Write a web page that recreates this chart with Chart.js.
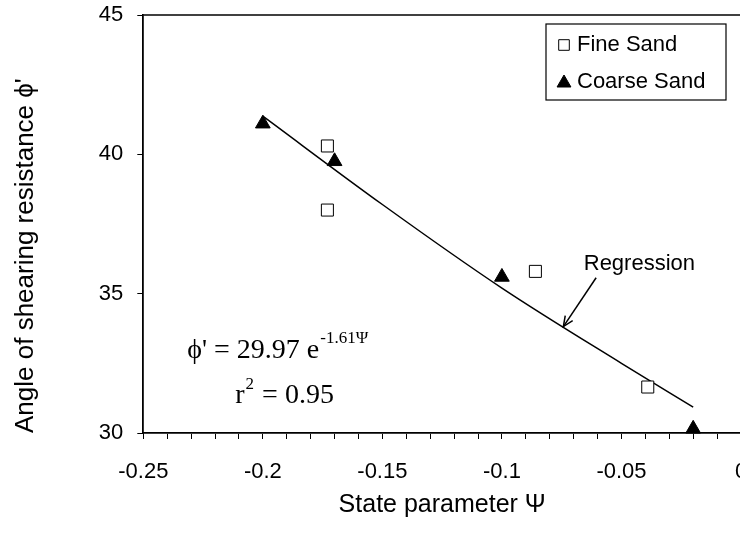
<!DOCTYPE html>
<html>
<head>
<meta charset="utf-8">
<script src="https://cdn.jsdelivr.net/npm/chart.js@4/dist/chart.umd.min.js"></script>
<style>
html,body{margin:0;padding:0;background:#fff;overflow:hidden;width:740px;height:537px}
#wrap{position:relative;width:760px;height:537px}
</style>
</head>
<body>
<div id="wrap"><canvas id="c" width="760" height="537"></canvas></div>
<script>
// ---- data ----
const fineSandX = [-0.173, -0.173, -0.086, -0.039];
const fineSandY = [40.3, 38.0, 35.8, 31.65];
const coarseSandX = [-0.2, -0.17, -0.1, -0.02];
const coarseSandY = [41.1, 39.75, 35.6, 30.15];
const regressionX = [-0.2, -0.15, -0.1, -0.05, -0.02];
const regressionY = [41.37, 38.2, 35.2, 32.5, 30.93];
const xTickValues = [-0.25, -0.2, -0.15, -0.1, -0.05, 0];
const xTickLabels = ['-0.25', '-0.2', '-0.15', '-0.1', '-0.05', '0'];
const seriesNames = ['Fine Sand', 'Coarse Sand', 'Regression'];
const xTitle = 'State parameter \u03A8';
const yTitle = "Angle of shearing resistance \u03D5'";

// annotation anchors (data coordinates)
const regLabelAt = [-0.0425, 36.05];
const arrowFrom = [-0.0606, 35.57];
const arrowTo = [-0.0743, 33.82];

const pts = (xs, ys) => xs.map((v, i) => ({x: v, y: ys[i]}));

const SANS = "'Liberation Sans', Arial, 'DejaVu Sans', sans-serif";
const SERIF = "'Liberation Serif', 'Times New Roman', 'DejaVu Serif', serif";

const legendPlugin = {
  id: 'boxLegend',
  afterDraw(chart) {
    const {ctx, chartArea: a} = chart;
    const L = a.right - 195, T = a.top + 9, W = 180, H = 76;
    ctx.save();
    ctx.fillStyle = '#fff';
    ctx.fillRect(L, T, W, H);
    ctx.strokeStyle = '#000';
    ctx.lineWidth = 1.2;
    ctx.strokeRect(L, T, W, H);
    ctx.font = '22px ' + SANS;
    ctx.textBaseline = 'middle';
    ctx.textAlign = 'left';
    const rows = [T + 21, T + 58];
    [0, 1].forEach((di, k) => {
      const ds = chart.data.datasets[di];
      ctx.fillStyle = ds.backgroundColor;
      ctx.strokeStyle = ds.borderColor;
      ctx.lineWidth = 1;
      Chart.helpers.drawPoint(ctx, {
        pointStyle: ds.pointStyle,
        radius: di === 0 ? 7.5 : 8,
        borderWidth: 1,
        rotation: 0
      }, L + 18, rows[k] + (di === 1 ? 1 : 0));
      ctx.fillStyle = '#000';
      ctx.fillText(ds.label, L + 31, rows[k]);
    });
    ctx.restore();
  }
};

const annotPlugin = {
  id: 'annot',
  afterDraw(chart) {
    const {ctx, chartArea: a, scales: {x, y}} = chart;
    ctx.save();
    // top frame line
    ctx.strokeStyle = '#000';
    ctx.lineWidth = 1.5;
    ctx.beginPath();
    ctx.moveTo(a.left, a.top);
    ctx.lineTo(a.right, a.top);
    ctx.stroke();

    // "Regression" label + arrow
    ctx.fillStyle = '#000';
    ctx.font = '22px ' + SANS;
    ctx.textAlign = 'center';
    ctx.textBaseline = 'middle';
    ctx.fillText(seriesNames[2], x.getPixelForValue(regLabelAt[0]), y.getPixelForValue(regLabelAt[1]));

    const x1 = x.getPixelForValue(arrowFrom[0]), y1 = y.getPixelForValue(arrowFrom[1]);
    const x2 = x.getPixelForValue(arrowTo[0]), y2 = y.getPixelForValue(arrowTo[1]);
    ctx.lineWidth = 1.5;
    ctx.beginPath();
    ctx.moveTo(x1, y1);
    ctx.lineTo(x2, y2);
    ctx.stroke();
    const ang = Math.atan2(y2 - y1, x2 - x1);
    const hl = 11, hw = 0.42;
    ctx.beginPath();
    ctx.moveTo(x2 - hl * Math.cos(ang - hw), y2 - hl * Math.sin(ang - hw));
    ctx.lineTo(x2, y2);
    ctx.lineTo(x2 - hl * Math.cos(ang + hw), y2 - hl * Math.sin(ang + hw));
    ctx.stroke();

    // equation text
    ctx.textAlign = 'left';
    ctx.textBaseline = 'alphabetic';
    const ex = a.left + 44, ey = a.top + 343;
    ctx.font = '28px ' + SERIF;
    const eq1 = "\u03D5' = 29.97 e";
    ctx.fillText(eq1, ex, ey);
    const w1 = ctx.measureText(eq1).width;
    ctx.font = '17px ' + SERIF;
    ctx.fillText('-1.61\u03A8', ex + w1 + 1, ey - 15);

    const rx = a.left + 92, ry = a.top + 388;
    ctx.font = '28px ' + SERIF;
    ctx.fillText('r', rx, ry);
    const wr = ctx.measureText('r').width;
    ctx.font = '17px ' + SERIF;
    ctx.fillText('2', rx + wr + 1, ry - 14);
    const w2 = ctx.measureText('2').width;
    ctx.font = '28px ' + SERIF;
    ctx.fillText(' = 0.95', rx + wr + w2 + 2, ry);
    ctx.restore();
  }
};

new Chart(document.getElementById('c'), {
  type: 'scatter',
  data: {
    datasets: [
      {
        label: seriesNames[0],
        data: pts(fineSandX, fineSandY),
        pointStyle: 'rect',
        pointRadius: 8.5,
        pointHoverRadius: 8.5,
        backgroundColor: '#ffffff',
        borderColor: '#000000',
        borderWidth: 1,
        clip: false,
        order: 1
      },
      {
        label: seriesNames[1],
        data: pts(coarseSandX, coarseSandY),
        pointStyle: 'triangle',
        pointRadius: 8.5,
        pointHoverRadius: 8.5,
        backgroundColor: '#000000',
        borderColor: '#000000',
        borderWidth: 1,
        clip: false,
        order: 0
      },
      {
        label: seriesNames[2],
        data: pts(regressionX, regressionY),
        showLine: true,
        pointRadius: 0,
        borderColor: '#000000',
        backgroundColor: '#000000',
        borderWidth: 1.5,
        cubicInterpolationMode: 'monotone',
        clip: false,
        order: 2
      }
    ]
  },
  options: {
    responsive: false,
    animation: false,
    events: [],
    layout: {padding: {top: 15, right: 19, bottom: 0, left: 0}},
    plugins: {
      legend: {display: false},
      tooltip: {enabled: false}
    },
    scales: {
      x: {
        type: 'linear',
        min: -0.25,
        max: 0,
        afterFit(scale) { scale.height = 104; scale.paddingLeft = 0; scale.paddingRight = 0; },
        border: {display: true, color: '#000', width: 1.8},
        grid: {display: true, drawOnChartArea: false, drawTicks: true, tickLength: 6, tickColor: '#000', tickWidth: 1},
        ticks: {
          stepSize: 0.01,
          autoSkip: false,
          maxRotation: 0,
          padding: 20,
          color: '#000',
          font: {family: SANS, size: 22},
          callback(value) {
            const i = xTickValues.findIndex(t => Math.abs(t - value) < 1e-6);
            return i >= 0 ? xTickLabels[i] : '';
          }
        },
        title: {
          display: true,
          text: xTitle,
          color: '#000',
          font: {family: SANS, size: 25},
          padding: {top: 0, bottom: 17}
        }
      },
      y: {
        type: 'linear',
        min: 30,
        max: 45,
        afterFit(scale) { scale.width = 143.3; scale.paddingTop = 0; scale.paddingBottom = 0; },
        border: {display: true, color: '#000', width: 1.8},
        grid: {display: true, drawOnChartArea: false, drawTicks: true, tickLength: 6, tickColor: '#000', tickWidth: 1},
        ticks: {
          stepSize: 5,
          padding: 14,
          color: '#000',
          font: {family: SANS, size: 22}
        },
        title: {
          display: true,
          text: yTitle,
          align: 'start',
          color: '#000',
          font: {family: SANS, size: 26},
          padding: {top: 10, bottom: 0}
        }
      }
    }
  },
  plugins: [legendPlugin, annotPlugin]
});
</script>
</body>
</html>
